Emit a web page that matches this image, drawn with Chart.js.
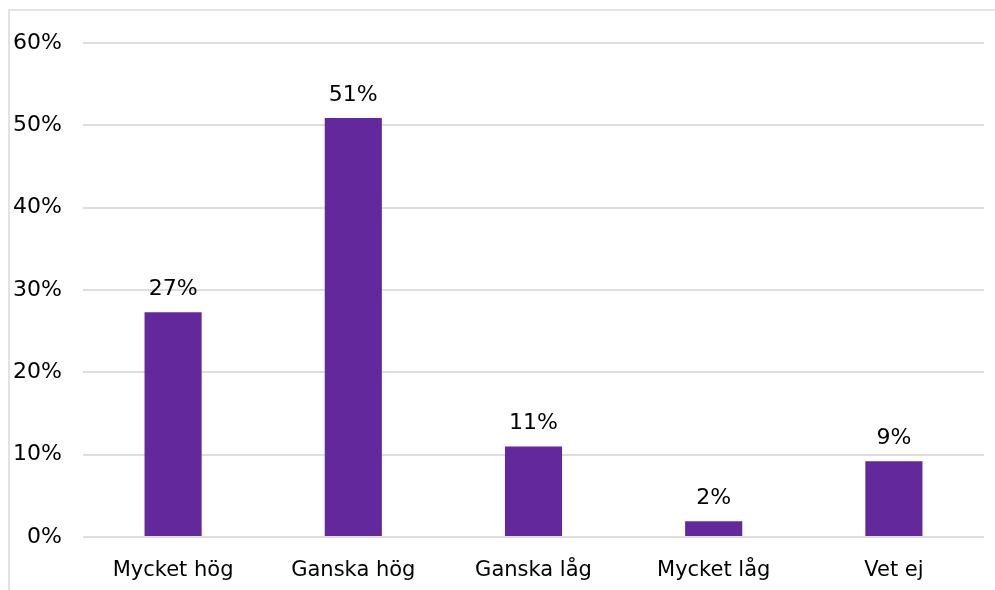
<!DOCTYPE html>
<html>
<head>
<meta charset="utf-8">
<script src="https://cdn.jsdelivr.net/npm/chart.js@4/dist/chart.umd.min.js"></script>
<style>
  html, body { margin: 0; padding: 0; background: #fff; }
  #wrap { position: relative; width: 995px; height: 590px; overflow: hidden; }
  #frame { position: absolute; left: 8px; top: 9px; width: 1000px; height: 600px;
           border-left: 2px solid #e4e2df; border-top: 2px solid #e4e2df; }
  canvas { position: absolute; left: 0; top: 0; }
</style>
</head>
<body>
<div id="wrap">
  <div id="frame"></div>
  <canvas id="chart" width="995" height="590"></canvas>
</div>
<script>
// Chart data.
const categories = ['Mycket hög', 'Ganska hög', 'Ganska låg', 'Mycket låg', 'Vet ej'];
const shares = [27.3, 50.9, 11.0, 1.9, 9.2];
const shareLabels = ['27%', '51%', '11%', '2%', '9%'];
const yTicks = [0, 10, 20, 30, 40, 50, 60];

const fontFamily = 'Verdana, "DejaVu Sans", sans-serif';

// Draws the value above each bar.
const barLabels = {
  id: 'barLabels',
  afterDatasetsDraw(chart) {
    const ctx = chart.ctx;
    const meta = chart.getDatasetMeta(0);
    ctx.save();
    ctx.font = '22px ' + fontFamily;
    ctx.fillStyle = '#000';
    ctx.textAlign = 'center';
    ctx.textBaseline = 'alphabetic';
    meta.data.forEach((bar, i) => {
      ctx.fillText(shareLabels[i], bar.x, bar.y - 17);
    });
    ctx.restore();
  }
};

new Chart(document.getElementById('chart'), {
  type: 'bar',
  data: {
    labels: categories,
    datasets: [{
      data: shares,
      backgroundColor: '#62289c',
      barPercentage: 0.317,
      categoryPercentage: 1
    }]
  },
  options: {
    responsive: false,
    animation: false,
    layout: { padding: { top: 43, right: 11, bottom: 0, left: 0 } },
    plugins: { legend: { display: false }, tooltip: { enabled: false } },
    scales: {
      x: {
        grid: { display: false },
        border: { display: false },
        ticks: { color: '#000', font: { family: fontFamily, size: 21 }, padding: 13 },
        afterFit: (scale) => { scale.height = 53; }
      },
      y: {
        min: 0,
        max: 60,
        afterBuildTicks: (scale) => { scale.ticks = yTicks.map(v => ({ value: v })); },
        grid: { color: '#e0dedb', lineWidth: 2, drawTicks: false },
        border: { display: false },
        ticks: {
          color: '#000',
          font: { family: fontFamily, size: 22 },
          padding: 21,
          callback: (v) => v + '%'
        },
        afterFit: (scale) => { scale.width = 83; }
      }
    }
  },
  plugins: [barLabels]
});
</script>
</body>
</html>
